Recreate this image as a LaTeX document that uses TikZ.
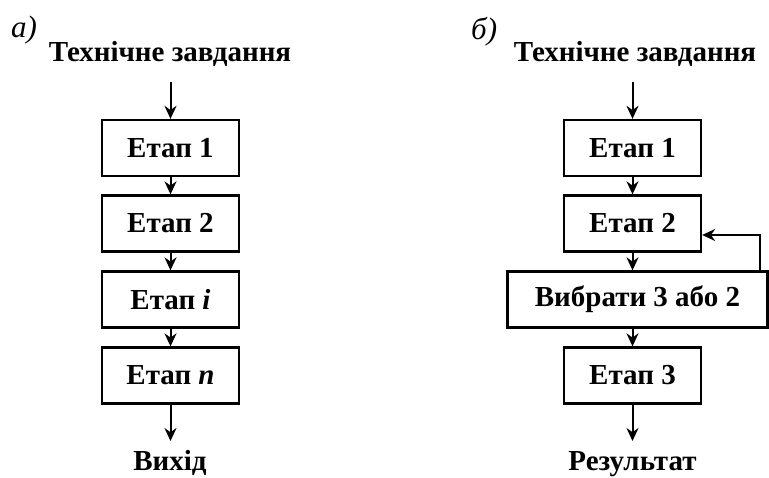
\documentclass[tikz,border=0pt]{standalone}
\usepackage{fontspec}
\setmainfont{Liberation Serif}
\usetikzlibrary{arrows.meta}
\tikzset{
  stage/.style={draw, line width=2.3pt, minimum height=56pt, inner sep=0pt,
    font=\fontsize{29}{32}\selectfont\bfseries},
  label/.style={inner sep=0pt, anchor=base, font=\fontsize{29}{32}\selectfont\bfseries},
  tag/.style={inner sep=0pt, anchor=base west, font=\fontsize{31}{32}\selectfont\itshape},
  flow/.style={line width=2pt, -{Stealth[length=13pt,width=12pt]}}
}
\begin{document}
\begin{tikzpicture}[x=1pt,y=-1pt]
\useasboundingbox (0,0) rectangle (769,478);
% left scheme: strictly sequential stages
\node[tag] (ta) at (11,38) {а)};
\node[label] (ina) at (170,62) {Технічне завдання};
\coordinate (ina0) at (170.5,82);
\node[stage, minimum width=137pt] (a1) at (170.5,148) {Етап 1};
\node[stage, minimum width=137pt] (a2) at (170.5,223.5) {Етап 2};
\node[stage, minimum width=137pt] (ai) at (170.5,299.5) {Етап \textit{i}};
\node[stage, minimum width=137pt] (an) at (170.5,375.5) {Етап \textit{n}};
\coordinate (outa0) at (170.5,441);
\node[label] (outa) at (170,470) {Вихід};
\draw[flow] (ina0) -- (a1);
\draw[flow] (a1) -- (a2);
\draw[flow] (a2) -- (ai);
\draw[flow] (ai) -- (an);
\draw[flow] (an) -- (outa0);
% right scheme: stages with a choice and a return path
\node[tag] (tb) at (471,40) {б)};
\node[label] (inb) at (635,62) {Технічне завдання};
\coordinate (inb0) at (632.5,82);
\node[stage, minimum width=137pt] (b1) at (632.5,148) {Етап 1};
\node[stage, minimum width=137pt] (b2) at (632.5,223.5) {Етап 2};
\node[stage, minimum width=260pt] (bc) at (637.5,299.5) {Вибрати 3 або 2};
\node[stage, minimum width=137pt] (b3) at (632.5,375.5) {Етап 3};
\coordinate (outb0) at (632.5,441);
\node[label] (outb) at (632.5,470) {Результат};
\draw[flow] (inb0) -- (b1);
\draw[flow] (b1) -- (b2);
\draw[flow] (b2) -- (b2 |- bc.north);
\draw[flow] (b2 |- bc.south) -- (b3);
\draw[flow] (b3) -- (outb0);
\coordinate (ret) at (760,235);
\draw[flow] (ret |- bc.north) -- (ret) -- (b2.east |- ret);
\end{tikzpicture}
\end{document}
